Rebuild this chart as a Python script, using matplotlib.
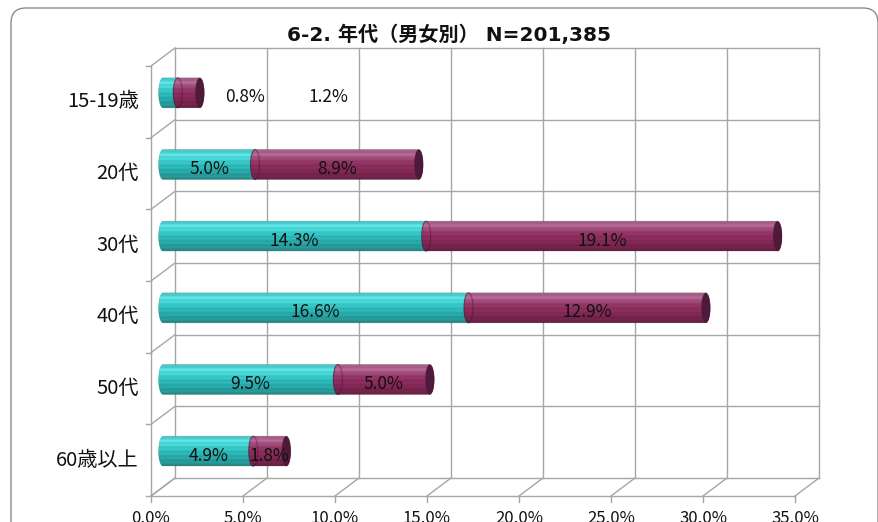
import numpy as np
import matplotlib
matplotlib.use("Agg")
import matplotlib.pyplot as plt
from matplotlib.path import Path
from matplotlib.patches import PathPatch, Ellipse, FancyBboxPatch
from matplotlib.transforms import ScaledTranslation

plt.rcParams['font.family'] = ['Noto Sans CJK JP', 'DejaVu Sans']

# ---- data ----
title = "6-2. 年代（男女別） N=201,385"
categories = ["15-19歳", "20代", "30代", "40代", "50代", "60歳以上"]
male = [0.8, 5.0, 14.3, 16.6, 9.5, 4.9]      # teal series (%)
female = [1.2, 8.9, 19.1, 12.9, 5.0, 1.8]    # maroon series (%)
x_ticks = [0, 5, 10, 15, 20, 25, 30, 35]
x_tick_labels = ["0.0%", "5.0%", "10.0%", "15.0%", "20.0%", "25.0%", "30.0%", "35.0%"]

# label x-positions for the row whose segments are too short to hold text
outside_label_x = {0: [4.45, 9.0]}

W, H, DPI = 879, 522, 100
fig = plt.figure(figsize=(W / DPI, H / DPI), dpi=DPI)
fig.patch.set_facecolor("white")

# rounded outer frame (inch units)
frame = FancyBboxPatch((11 / DPI, -0.5), (878 - 11) / DPI, (H - 8) / DPI + 0.5,
                       boxstyle="round,pad=0,rounding_size=0.15",
                       transform=fig.dpi_scale_trans, facecolor="none",
                       edgecolor="#8c8c8c", linewidth=1.0)
fig.patches.append(frame)

# axes = middle depth plane of the 3-D box (with a little room left of 0 %)
x_min, x_max = -1.0, 35.0
px_per_unit = 18.4
zero_px, top_px, bot_px = 163, 57, 487
left_px = zero_px + x_min * px_per_unit
right_px = zero_px + x_max * px_per_unit
ax = fig.add_axes([left_px / W, 1 - bot_px / H, (right_px - left_px) / W,
                   (bot_px - top_px) / H])
n = len(categories)


def set_limits():
    ax.set_xlim(x_min, x_max)
    ax.set_ylim(n - 0.5, -0.5)


set_limits()
ax.axis("off")

dx, dy = 0.12, 0.09  # depth offset in inches (half depth)
back = ax.transData + ScaledTranslation(dx, dy, fig.dpi_scale_trans)
front = ax.transData + ScaledTranslation(-dx, -dy, fig.dpi_scale_trans)

grid_c = "#a6a6a6"
lw = 1.0
y_lo, y_hi = -0.5, n - 0.5
bounds = np.arange(n + 1) - 0.5

# back wall
for xv in x_ticks:
    ax.plot([xv, xv], [y_lo, y_hi], color=grid_c, lw=lw, transform=back, clip_on=False, zorder=1)
for yv in bounds:
    ax.plot([0, 35], [yv, yv], color=grid_c, lw=lw, transform=back, clip_on=False, zorder=1)


def depth_line(x, y):
    p0 = back.transform((x, y))
    p1 = front.transform((x, y))
    ax.plot([p0[0], p1[0]], [p0[1], p1[1]], color=grid_c, lw=lw,
            transform=None, clip_on=False, zorder=1)


# left wall and floor diagonals
for yv in bounds:
    depth_line(0, yv)
for xv in x_ticks:
    depth_line(xv, y_hi)

# front left edge and front floor edge
ax.plot([0, 0], [y_lo, y_hi], color=grid_c, lw=lw, transform=front, clip_on=False, zorder=1)
ax.plot([0, 35], [y_hi, y_hi], color=grid_c, lw=lw, transform=front, clip_on=False, zorder=1)

# tick marks
for yv in bounds:
    p0 = front.transform((0, yv))
    ax.plot([p0[0] - 5, p0[0]], [p0[1], p0[1]], color=grid_c, lw=lw,
            transform=None, clip_on=False, zorder=1)
for xv in x_ticks:
    p0 = front.transform((xv, y_hi))
    ax.plot([p0[0], p0[0]], [p0[1], p0[1] - 6], color=grid_c, lw=lw,
            transform=None, clip_on=False, zorder=1)

# ---- cylinders ----
bar_h = 0.42
rx = 0.245


def gradient(stops, rows=60):
    t = np.linspace(0, 1, rows)
    pos = np.linspace(0, 1, len(stops))
    cols = np.array([matplotlib.colors.to_rgb(c) for c in stops])
    arr = np.stack([np.interp(t, pos, cols[:, i]) for i in range(3)], axis=-1)
    stripe = 1 + 0.05 * np.sin(t * np.pi * 14)
    arr = np.clip(arr * stripe[:, None], 0, 1)
    return arr[:, None, :]


teal_grad = gradient(["#3ab8b8", "#5ee2e2", "#42d2d2", "#2fbdbd", "#29aeae", "#259c9c", "#2a8a8a"])
maroon_grad = gradient(["#9a5680", "#b46a92", "#9a4072", "#8c2f5f", "#852a58", "#76234c", "#6a2246"])
teal_face = "#1f7a7a"
maroon_face = "#4d1a39"


def body_path(x0, x1, yc):
    th = np.linspace(np.pi / 2, 3 * np.pi / 2, 40)
    left = np.column_stack([x0 + rx * np.cos(th), yc - bar_h / 2 * np.sin(th)])
    th2 = np.linspace(-np.pi / 2, np.pi / 2, 40)
    right = np.column_stack([x1 + rx * np.cos(th2), yc - bar_h / 2 * np.sin(th2)])
    verts = np.vstack([left, right, left[:1]])
    codes = [Path.MOVETO] + [Path.LINETO] * (len(verts) - 2) + [Path.CLOSEPOLY]
    return Path(verts, codes)


def cylinder(x0, x1, yc, grad, face, z, seam):
    path = body_path(x0, x1, yc)
    patch = PathPatch(path, transform=ax.transData, facecolor="none", edgecolor="none")
    im = ax.imshow(grad, extent=(x0 - rx, x1 + rx, yc + bar_h / 2, yc - bar_h / 2),
                   aspect="auto", origin="upper", zorder=z, interpolation="bilinear")
    im.set_clip_path(patch)
    ax.add_patch(PathPatch(path, facecolor="none", edgecolor=(0, 0, 0, 0.12), lw=0.6,
                           zorder=z + 0.1, clip_on=False))
    if seam:
        ax.add_patch(Ellipse((x0, yc), 2 * rx, bar_h, facecolor="none",
                             edgecolor=(0.3, 0.05, 0.2, 0.45), lw=0.8, zorder=z + 0.2,
                             clip_on=False))
    ax.add_patch(Ellipse((x1, yc), 2 * rx, bar_h, facecolor=face,
                         edgecolor="none", zorder=z + 0.2, clip_on=False))


for i in range(n):
    m, f = male[i], female[i]
    cylinder(0, m, i, teal_grad, teal_face, 2 + i * 0.01, False)
    cylinder(m, m + f, i, maroon_grad, maroon_face, 3 + i * 0.01, True)

set_limits()

# ---- data labels ----
lab_tr = ax.transData + ScaledTranslation(0, -0.045, fig.dpi_scale_trans)
lab_fs = 12.5
for i in range(n):
    m, f = male[i], female[i]
    if i in outside_label_x:
        xs = outside_label_x[i]
    else:
        xs = [m / 2, m + f / 2]
    for xv, val in zip(xs, [m, f]):
        ax.text(xv, i, f"{val:.1f}%", transform=lab_tr, ha="center", va="center",
                fontsize=lab_fs, color="#111111", zorder=10, clip_on=False)

# category labels (front plane)
cat_tr = front + ScaledTranslation(-0.12, 0, fig.dpi_scale_trans)
for i, c in enumerate(categories):
    ax.text(0, i, c, transform=cat_tr, ha="right", va="center", fontsize=14.5,
            color="#111111", clip_on=False)

# x tick labels under the front edge
xt_tr = front + ScaledTranslation(0, -0.14, fig.dpi_scale_trans)
for xv, s in zip(x_ticks, x_tick_labels):
    ax.text(xv, y_hi, s, transform=xt_tr, ha="center", va="top", fontsize=12,
            color="#111111", clip_on=False)

fig.text(449 / W, 1 - 35 / H, title, ha="center", va="center", fontsize=14.5,
         fontweight="bold", color="#111111", family=["DejaVu Sans", "Noto Sans CJK JP"])

fig.savefig("out.png", dpi=DPI)
